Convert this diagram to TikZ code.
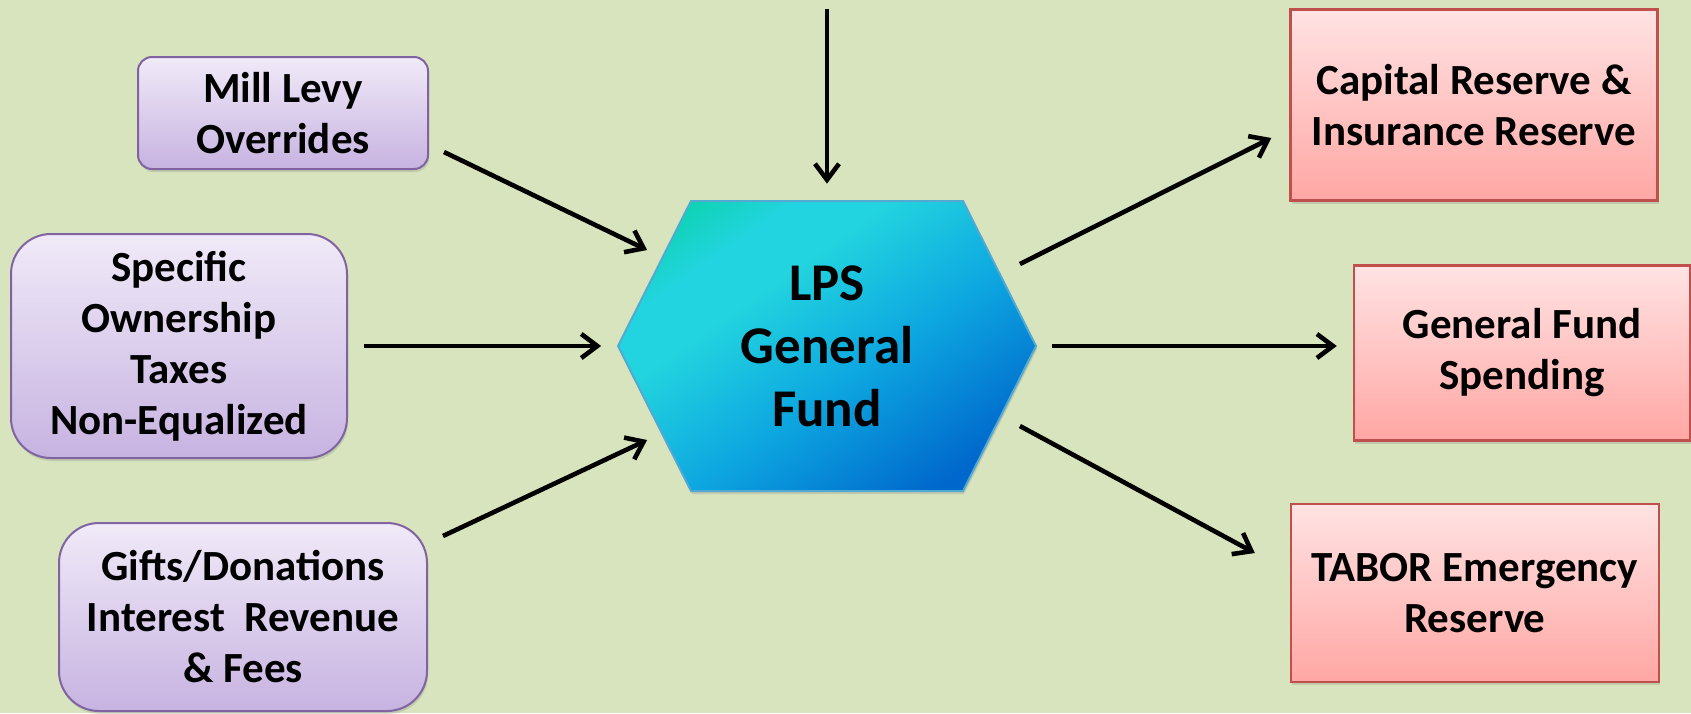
\documentclass[tikz,border=0pt]{standalone}
\usepackage{fontspec}
\setmainfont{Carlito}
\usetikzlibrary{arrows.meta,shadows}

\definecolor{bggreen}{HTML}{D7E4BD}
\definecolor{lilacline}{HTML}{8064A2}
\definecolor{lilactop}{HTML}{F0EAF8}
\definecolor{lilacbot}{HTML}{C7B3E1}
\definecolor{roseline}{HTML}{C0504D}
\definecolor{rosetop}{HTML}{FFE3E3}
\definecolor{rosebot}{HTML}{FFA7A4}
\definecolor{hexteal}{HTML}{0FD3B6}
\definecolor{hexcyan}{HTML}{22D4DF}
\definecolor{hexblue}{HTML}{0DA6E0}
\definecolor{hexdeep}{HTML}{0068CC}
\definecolor{hexline}{HTML}{52A9D2}

\pgfdeclareverticalshading{hexfill}{100bp}{color(0bp)=(hexdeep); color(24bp)=(hexdeep); color(44bp)=(hexblue); color(62bp)=(hexcyan); color(70bp)=(hexcyan); color(78bp)=(hexteal); color(100bp)=(hexteal)}

\tikzset{
  income/.style={draw=lilacline, line width=1pt, top color=lilactop, bottom color=lilacbot,
    rounded corners=20pt, align=center, font=\fontsize{21.5}{25.5}\selectfont\bfseries,
    drop shadow={opacity=0.25, shadow xshift=0.6pt, shadow yshift=-1.5pt}},
  outlay/.style={draw=roseline, line width=1.2pt, top color=rosetop, bottom color=rosebot,
    align=center, font=\fontsize{21.5}{25.5}\selectfont\bfseries,
    drop shadow={opacity=0.25, shadow xshift=0.6pt, shadow yshift=-1.5pt}},
  fundlabel/.style={minimum width=208.5pt, minimum height=145pt, align=center,
    font=\fontsize{26.5}{31.5}\selectfont\bfseries},
  flow/.style={line width=2.3pt, -{Straight Barb[length=8pt, width=12pt, line width=2.3pt]}}
}

\begin{document}
\begin{tikzpicture}[x=0.5pt, y=-0.5pt]
%% the slide background, it also fixes the size of the page
    \fill[bggreen] (0,0) rectangle (1691,713);
    \useasboundingbox (0,0) rectangle (1691,713);

%% money coming in (left column)
    \node [income, rounded corners=7pt, minimum width=145pt, minimum height=56pt] (mill) at (283,113) {Mill Levy\\Overrides};
    \node [income, minimum width=168pt, minimum height=112pt] (spec) at (179,346) {Specific\\Ownership\\Taxes\\Non-Equalized};
    \node [income, minimum width=184pt, minimum height=94pt] (gift) at (243,617) {Gifts/Donations\\Interest\ \ Revenue\\\& Fees};

%% the fund itself, a flat hexagon with a diagonal gradient
    \coordinate (hexc) at (827,346);
    \shadedraw [shading=hexfill, shading angle=35, draw=hexline, line width=1pt,
      drop shadow={opacity=0.25, shadow xshift=0.6pt, shadow yshift=-1.5pt}]
      ([shift={(-209,0)}]hexc) -- ([shift={(-136,-145)}]hexc) -- ([shift={(136,-145)}]hexc)
      -- ([shift={(209,0)}]hexc) -- ([shift={(136,145)}]hexc) -- ([shift={(-136,145)}]hexc) -- cycle;
    \node [fundlabel] (hex) at (hexc) {LPS\\General\\Fund};

%% money going out (right column)
    \node [outlay, minimum width=183.5pt, minimum height=95.5pt] (cap) at (1474,105) {Capital Reserve \&\\Insurance Reserve};
    \node [outlay, minimum width=168pt, minimum height=87.5pt] (spend) at (1522,353) {General Fund\\Spending};
    \node [outlay, minimum width=184pt, minimum height=89pt] (tabor) at (1475,593) {TABOR Emergency\\Reserve};

%% arrows
    \coordinate (topin) at (827,9);
    \draw [flow] (topin) -- ([shift={(0,-17)}]hex.north);
    \draw [flow] ([shift={(15,39)}]mill.east) -- ([shift={(29,-96)}]hex.west);
    \draw [flow] ([shift={(16,0)}]spec.east) -- ([shift={(-17,0)}]hex.west);
    \draw [flow] ([shift={(15,-81)}]gift.east) -- ([shift={(29,94)}]hex.west);
    \draw [flow] ([shift={(-16,-82)}]hex.east) -- ([shift={(-18,33)}]cap.west);
    \draw [flow] ([shift={(16,0)}]hex.east) -- ([shift={(-16,-7)}]spend.west);
    \draw [flow] ([shift={(-16,80)}]hex.east) -- ([shift={(-35,-40)}]tabor.west);
%\draw[help lines, step=50] (0,0) grid (1691,713);
\end{tikzpicture}
\end{document}
